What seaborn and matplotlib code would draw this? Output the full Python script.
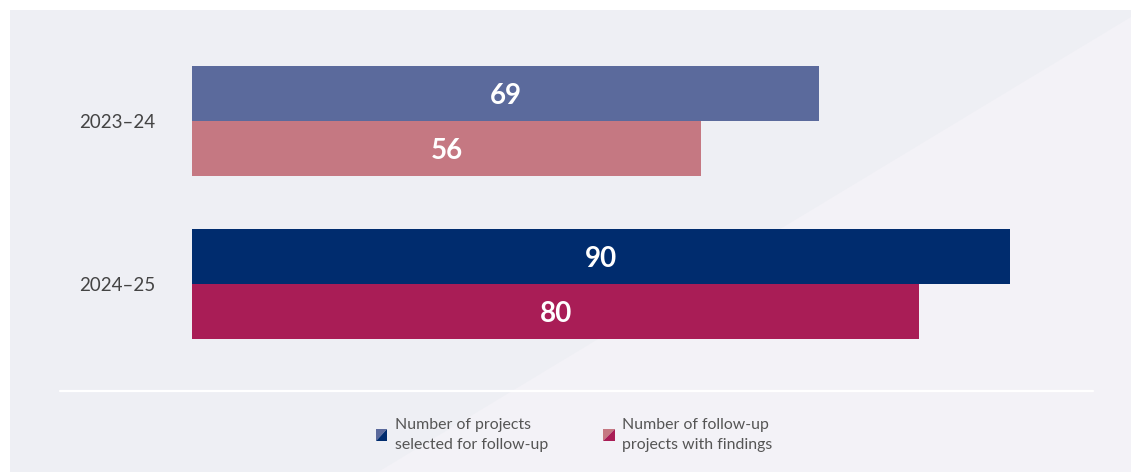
import matplotlib
matplotlib.use("Agg")
import matplotlib.pyplot as plt
from matplotlib.patches import Rectangle, Polygon
from matplotlib.lines import Line2D
from matplotlib.legend_handler import HandlerBase
import seaborn as sns
import pandas as pd

# ---- data ----
years = ["2023–24", "2024–25"]
selected = [69, 90]
with_findings = [56, 80]
series_names = ["Number of projects\nselected for follow-up",
                "Number of follow-up\nprojects with findings"]
selected_colors = ["#5b6a9c", "#002c6e"]
findings_colors = ["#c57882", "#a91d56"]

df = pd.DataFrame({
    "year": years * 2,
    "value": selected + with_findings,
    "series": [series_names[0]] * 2 + [series_names[1]] * 2,
})

sns.set_theme(style="white")
plt.rcParams["font.family"] = ["Lato", "DejaVu Sans"]

W, H = 1131, 472
fig = plt.figure(figsize=(W / 100, H / 100), dpi=100, facecolor="white")

# background panel
fig.patches.append(Rectangle((10 / W, 0), 1 - 10 / W, 1 - 10 / H,
                             transform=fig.transFigure, facecolor="#eeeff4",
                             edgecolor="none", zorder=-2))
fig.patches.append(Polygon([(1, 1 - 17 / H), (1, 0), (378 / W, 0)], closed=True,
                           transform=fig.transFigure, facecolor="#f3f2f7",
                           edgecolor="none", zorder=-1))

ax = fig.add_axes([192 / W, 1 - 390 / H, 909 / W, 380 / H])
ax.set_facecolor("none")
ax.set_zorder(1)

sns.barplot(data=df, y="year", x="value", hue="series", hue_order=series_names,
            order=years, orient="h", width=0.67, linewidth=0, saturation=1,
            legend=False, ax=ax)

color_sets = [selected_colors, findings_colors]
for cont, cols in zip(ax.containers, color_sets):
    for patch, c in zip(cont.patches, cols):
        patch.set_facecolor(c)
        patch.set_edgecolor("none")
    texts = ax.bar_label(cont, labels=[f"{int(v)}" for v in cont.datavalues],
                         label_type="center", color="white", fontsize=20,
                         fontweight="bold")
    for t in texts:
        t.set_va("center_baseline")

ax.set_xlim(0, 100)
ax.set_ylim(1.65, -0.681)
ax.set_xlabel("")
ax.set_ylabel("")
ax.set_xticks([])
ax.tick_params(axis="y", length=0, pad=26.5, labelsize=13.5, labelcolor="#444444")
for s in ax.spines.values():
    s.set_visible(False)

# white separator line
fig.add_artist(Line2D([60 / W, 1093 / W], [1 - 391 / H, 1 - 391 / H],
                      transform=fig.transFigure, color="white", lw=1.6))


class SplitHandler(HandlerBase):
    def __init__(self, light, dark):
        super().__init__()
        self.light = light
        self.dark = dark

    def create_artists(self, legend, orig_handle, xdescent, ydescent, width,
                       height, fontsize, trans):
        s = min(width, height)
        x0 = -xdescent + (width - s) / 2
        y0 = -ydescent + (height - s) / 2
        t1 = Polygon([[x0, y0], [x0, y0 + s], [x0 + s, y0 + s]], closed=True,
                     facecolor=self.light, edgecolor="none", transform=trans)
        t2 = Polygon([[x0, y0], [x0 + s, y0], [x0 + s, y0 + s]], closed=True,
                     facecolor=self.dark, edgecolor="none", transform=trans)
        return [t1, t2]


h1 = Rectangle((0, 0), 1, 1)
h2 = Rectangle((0, 0), 1, 1)
leg = fig.legend([h1, h2], series_names, loc="center",
                 bbox_to_anchor=(0.5075, 1 - 435 / H), ncol=2, frameon=False,
                 fontsize=11.4, handlelength=0.72, handleheight=0.72,
                 handletextpad=0.45, columnspacing=3.5,
                 handler_map={h1: SplitHandler(selected_colors[0], selected_colors[1]),
                              h2: SplitHandler(findings_colors[0], findings_colors[1])})
for t in leg.get_texts():
    t.set_color("#555555")
    t.set_linespacing(1.5)

fig.savefig("out.png", dpi=100, facecolor="white")
